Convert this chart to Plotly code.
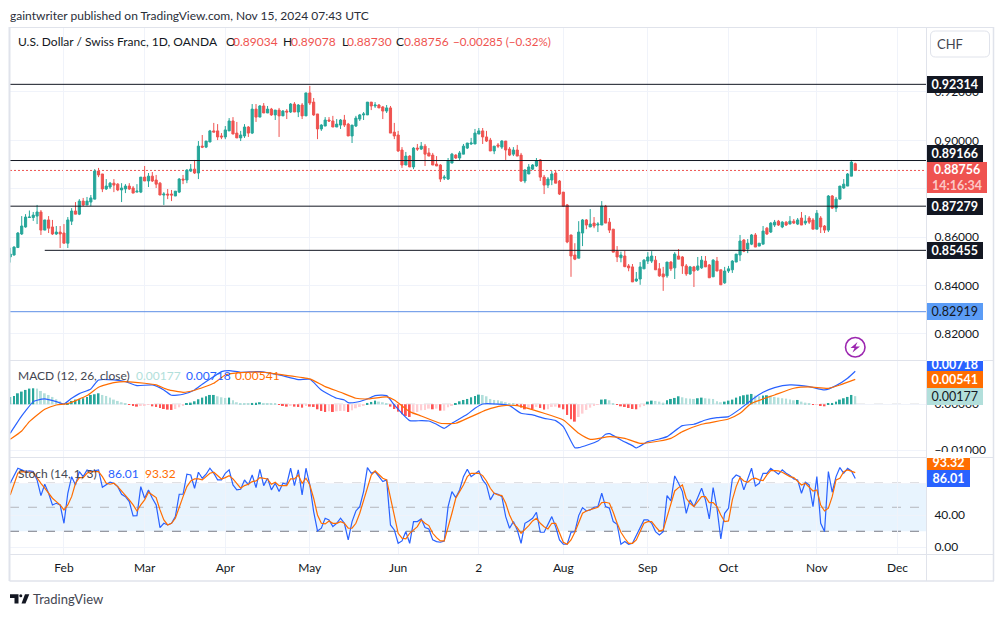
import pandas as pd
import plotly.graph_objects as go
from plotly.subplots import make_subplots

W = 1004
H = 617

dates = pd.bdate_range("2024-01-12", "2024-11-15")

opens = [
    0.8518, 0.8526, 0.8557, 0.8613, 0.8642, 0.8681, 0.8681, 0.8687, 0.8704, 0.8629,
    0.8671, 0.8642, 0.8613, 0.8621, 0.8617, 0.8575, 0.8666, 0.8708, 0.8695, 0.8749,
    0.8733, 0.8745, 0.8757, 0.8873, 0.8861, 0.8799, 0.8807, 0.8823, 0.8819, 0.8795,
    0.8799, 0.8811, 0.8803, 0.8786, 0.8786, 0.8848, 0.8832, 0.8852, 0.8836, 0.8823,
    0.8774, 0.8778, 0.8778, 0.8770, 0.8786, 0.8840, 0.8836, 0.8873, 0.8881, 0.8865,
    0.8976, 0.8972, 0.8993, 0.9039, 0.9039, 0.9018, 0.9014, 0.9039, 0.9080, 0.9030,
    0.9010, 0.9018, 0.9055, 0.9030, 0.9129, 0.9096, 0.9142, 0.9113, 0.9129, 0.9105,
    0.9125, 0.9101, 0.9121, 0.9117, 0.9150, 0.9117, 0.9146, 0.9101, 0.9196, 0.9158,
    0.9109, 0.9047, 0.9059, 0.9084, 0.9080, 0.9055, 0.9063, 0.9084, 0.9067, 0.9018,
    0.9059, 0.9088, 0.9105, 0.9105, 0.9158, 0.9142, 0.9146, 0.9138, 0.9121, 0.9134,
    0.9034, 0.9022, 0.8960, 0.8898, 0.8935, 0.8890, 0.8968, 0.8964, 0.8976, 0.8948,
    0.8939, 0.8902, 0.8898, 0.8844, 0.8840, 0.8906, 0.8939, 0.8927, 0.8943, 0.8968,
    0.8985, 0.8985, 0.9026, 0.9039, 0.9014, 0.9001, 0.8956, 0.8981, 0.8972, 0.8997,
    0.8964, 0.8943, 0.8960, 0.8939, 0.8832, 0.8861, 0.8881, 0.8894, 0.8919, 0.8848,
    0.8815, 0.8836, 0.8865, 0.8832, 0.8786, 0.8733, 0.8609, 0.8526, 0.8513, 0.8617,
    0.8671, 0.8642, 0.8658, 0.8650, 0.8650, 0.8728, 0.8662, 0.8633, 0.8542, 0.8515,
    0.8522, 0.8481, 0.8477, 0.8419, 0.8427, 0.8469, 0.8501, 0.8501, 0.8505, 0.8469,
    0.8448, 0.8440, 0.8497, 0.8473, 0.8522, 0.8518, 0.8481, 0.8448, 0.8477, 0.8465,
    0.8473, 0.8501, 0.8485, 0.8436, 0.8501, 0.8465, 0.8411, 0.8460, 0.8465, 0.8497,
    0.8526, 0.8588, 0.8551, 0.8571, 0.8609, 0.8563, 0.8571, 0.8637, 0.8621, 0.8650,
    0.8666, 0.8642, 0.8662, 0.8654, 0.8666, 0.8654, 0.8679, 0.8658, 0.8679, 0.8671,
    0.8633, 0.8679, 0.8646, 0.8629, 0.8770, 0.8720, 0.8757, 0.8803, 0.8811, 0.8852,
    0.89034,
]
highs = [
    0.8556, 0.8562, 0.8621, 0.8687, 0.8695, 0.8710, 0.8704, 0.8733, 0.8712, 0.8671,
    0.8687, 0.8671, 0.8646, 0.8646, 0.8654, 0.8683, 0.8720, 0.8745, 0.8757, 0.8762,
    0.8766, 0.8774, 0.8881, 0.8886, 0.8861, 0.8840, 0.8828, 0.8840, 0.8823, 0.8823,
    0.8819, 0.8823, 0.8811, 0.8819, 0.8848, 0.8894, 0.8865, 0.8869, 0.8857, 0.8828,
    0.8786, 0.8799, 0.8795, 0.8790, 0.8844, 0.8857, 0.8881, 0.8902, 0.8919, 0.8997,
    0.9022, 0.8997, 0.9043, 0.9072, 0.9067, 0.9030, 0.9059, 0.9092, 0.9096, 0.9076,
    0.9039, 0.9067, 0.9059, 0.9150, 0.9150, 0.9146, 0.9154, 0.9142, 0.9134, 0.9125,
    0.9134, 0.9125, 0.9129, 0.9154, 0.9158, 0.9150, 0.9154, 0.9196, 0.9225, 0.9175,
    0.9109, 0.9067, 0.9096, 0.9096, 0.9101, 0.9088, 0.9088, 0.9105, 0.9072, 0.9063,
    0.9101, 0.9109, 0.9117, 0.9158, 0.9158, 0.9158, 0.9150, 0.9142, 0.9146, 0.9142,
    0.9072, 0.9039, 0.8972, 0.8952, 0.8939, 0.8972, 0.8985, 0.8993, 0.8985, 0.8968,
    0.8948, 0.8935, 0.8902, 0.8857, 0.8927, 0.8948, 0.8943, 0.8956, 0.8985, 0.8989,
    0.9010, 0.9047, 0.9051, 0.9051, 0.9039, 0.9010, 0.8976, 0.8989, 0.9001, 0.8997,
    0.8972, 0.8972, 0.8981, 0.8948, 0.8881, 0.8902, 0.8902, 0.8927, 0.8923, 0.8857,
    0.8848, 0.8873, 0.8877, 0.8836, 0.8786, 0.8737, 0.8609, 0.8575, 0.8666, 0.8675,
    0.8675, 0.8716, 0.8683, 0.8662, 0.8749, 0.8733, 0.8679, 0.8633, 0.8563, 0.8540,
    0.8544, 0.8489, 0.8489, 0.8456, 0.8497, 0.8509, 0.8538, 0.8542, 0.8522, 0.8493,
    0.8477, 0.8497, 0.8501, 0.8538, 0.8551, 0.8522, 0.8489, 0.8481, 0.8481, 0.8518,
    0.8522, 0.8522, 0.8489, 0.8509, 0.8518, 0.8465, 0.8477, 0.8481, 0.8505, 0.8530,
    0.8609, 0.8592, 0.8592, 0.8613, 0.8617, 0.8575, 0.8646, 0.8642, 0.8662, 0.8671,
    0.8671, 0.8666, 0.8666, 0.8687, 0.8675, 0.8679, 0.8704, 0.8691, 0.8687, 0.8679,
    0.8712, 0.8687, 0.8650, 0.8774, 0.8774, 0.8766, 0.8811, 0.8840, 0.8865, 0.8919,
    0.89078,
]
lows = [
    0.8495, 0.8524, 0.8557, 0.8609, 0.8639, 0.8681, 0.8667, 0.8654, 0.8609, 0.8629,
    0.8617, 0.8609, 0.8609, 0.8555, 0.8575, 0.8555, 0.8650, 0.8695, 0.8691, 0.8728,
    0.8733, 0.8728, 0.8757, 0.8848, 0.8786, 0.8795, 0.8799, 0.8786, 0.8790, 0.8745,
    0.8782, 0.8795, 0.8782, 0.8786, 0.8782, 0.8832, 0.8807, 0.8828, 0.8803, 0.8774,
    0.8733, 0.8757, 0.8749, 0.8770, 0.8782, 0.8819, 0.8823, 0.8869, 0.8861, 0.8840,
    0.8968, 0.8968, 0.8993, 0.9034, 0.9001, 0.9005, 0.9005, 0.9039, 0.9026, 0.9010,
    0.8997, 0.9010, 0.9014, 0.9026, 0.9076, 0.9096, 0.9113, 0.9113, 0.9101, 0.9084,
    0.9014, 0.9101, 0.9088, 0.9113, 0.9117, 0.9096, 0.9088, 0.9101, 0.9146, 0.9101,
    0.9005, 0.9039, 0.9059, 0.9076, 0.9055, 0.9055, 0.9047, 0.9055, 0.9018, 0.8989,
    0.9055, 0.9080, 0.9084, 0.9105, 0.9125, 0.9134, 0.9134, 0.9088, 0.9113, 0.9030,
    0.9005, 0.8952, 0.8886, 0.8898, 0.8890, 0.8881, 0.8956, 0.8960, 0.8894, 0.8935,
    0.8898, 0.8894, 0.8828, 0.8836, 0.8836, 0.8906, 0.8923, 0.8915, 0.8943, 0.8964,
    0.8981, 0.8985, 0.9026, 0.8985, 0.8993, 0.8956, 0.8943, 0.8968, 0.8964, 0.8919,
    0.8935, 0.8935, 0.8935, 0.8828, 0.8823, 0.8861, 0.8877, 0.8890, 0.8832, 0.8778,
    0.8803, 0.8815, 0.8823, 0.8774, 0.8728, 0.8575, 0.8436, 0.8505, 0.8513, 0.8563,
    0.8633, 0.8642, 0.8637, 0.8621, 0.8650, 0.8658, 0.8617, 0.8538, 0.8497, 0.8496,
    0.8476, 0.8459, 0.8415, 0.8415, 0.8403, 0.8469, 0.8489, 0.8493, 0.8465, 0.8436,
    0.8378, 0.8432, 0.8460, 0.8427, 0.8509, 0.8448, 0.8440, 0.8444, 0.8394, 0.8460,
    0.8469, 0.8477, 0.8432, 0.8436, 0.8460, 0.8403, 0.8407, 0.8452, 0.8452, 0.8497,
    0.8501, 0.8538, 0.8534, 0.8567, 0.8559, 0.8563, 0.8571, 0.8609, 0.8617, 0.8642,
    0.8646, 0.8637, 0.8646, 0.8654, 0.8654, 0.8650, 0.8650, 0.8650, 0.8654, 0.8633,
    0.8633, 0.8617, 0.8617, 0.8621, 0.8716, 0.8704, 0.8757, 0.8799, 0.8811, 0.8852,
    0.88730,
]
closes = [
    0.8530, 0.8559, 0.8617, 0.8646, 0.8683, 0.8683, 0.8691, 0.8704, 0.8629, 0.8671,
    0.8637, 0.8613, 0.8621, 0.8613, 0.8575, 0.8671, 0.8708, 0.8695, 0.8749, 0.8733,
    0.8749, 0.8762, 0.8873, 0.8857, 0.8799, 0.8811, 0.8823, 0.8815, 0.8795, 0.8803,
    0.8811, 0.8799, 0.8782, 0.8790, 0.8848, 0.8832, 0.8852, 0.8832, 0.8819, 0.8774,
    0.8778, 0.8774, 0.8774, 0.8790, 0.8840, 0.8836, 0.8877, 0.8881, 0.8865, 0.8976,
    0.8972, 0.8997, 0.9039, 0.9034, 0.9014, 0.9014, 0.9043, 0.9080, 0.9026, 0.9010,
    0.9022, 0.9055, 0.9030, 0.9129, 0.9096, 0.9142, 0.9113, 0.9129, 0.9105, 0.9125,
    0.9101, 0.9121, 0.9117, 0.9150, 0.9117, 0.9146, 0.9101, 0.9196, 0.9154, 0.9105,
    0.9047, 0.9063, 0.9084, 0.9080, 0.9055, 0.9067, 0.9084, 0.9063, 0.9018, 0.9063,
    0.9092, 0.9105, 0.9109, 0.9158, 0.9142, 0.9146, 0.9134, 0.9121, 0.9134, 0.9030,
    0.9018, 0.8956, 0.8898, 0.8935, 0.8890, 0.8968, 0.8964, 0.8976, 0.8943, 0.8935,
    0.8898, 0.8894, 0.8840, 0.8848, 0.8915, 0.8943, 0.8927, 0.8948, 0.8976, 0.8989,
    0.8989, 0.9030, 0.9039, 0.9014, 0.8997, 0.8956, 0.8976, 0.8976, 0.8997, 0.8960,
    0.8939, 0.8960, 0.8935, 0.8832, 0.8877, 0.8890, 0.8898, 0.8915, 0.8848, 0.8815,
    0.8840, 0.8861, 0.8823, 0.8778, 0.8728, 0.8580, 0.8522, 0.8509, 0.8621, 0.8671,
    0.8650, 0.8654, 0.8646, 0.8654, 0.8728, 0.8658, 0.8629, 0.8538, 0.8518, 0.8526,
    0.8478, 0.8473, 0.8415, 0.8427, 0.8477, 0.8505, 0.8518, 0.8522, 0.8465, 0.8440,
    0.8436, 0.8497, 0.8469, 0.8530, 0.8509, 0.8481, 0.8448, 0.8477, 0.8460, 0.8481,
    0.8505, 0.8477, 0.8432, 0.8505, 0.8460, 0.8403, 0.8460, 0.8469, 0.8501, 0.8530,
    0.8584, 0.8542, 0.8575, 0.8609, 0.8559, 0.8575, 0.8625, 0.8613, 0.8658, 0.8662,
    0.8650, 0.8662, 0.8650, 0.8666, 0.8658, 0.8671, 0.8650, 0.8666, 0.8662, 0.8633,
    0.8699, 0.8642, 0.8629, 0.8770, 0.8720, 0.8757, 0.8811, 0.8819, 0.8861, 0.8910,
    0.88756,
]

# MACD pane
macd_hist = [
    0.0016, 0.00181, 0.00239, 0.00276, 0.00312, 0.00341, 0.00348, 0.00341, 0.0029, 0.00239,
    0.00203, 0.0016, 0.00109, 0.00065, 0.00029, 0.00029, 0.00073, 0.00102, 0.00116, 0.00131,
    0.0016, 0.00203, 0.00218, 0.00239, 0.00203, 0.00181, 0.00145, 0.00102, 0.00073, 0.00044,
    0.00015, -0.00015, -0.00029, -0.00051, -0.00022, -0.00022, -0.00015, -0.00044, -0.00058, -0.0008,
    -0.00102, -0.00116, -0.00123, -0.00102, -0.00065, -0.00022, 0.00007, 0.00036, 0.00065, 0.00109,
    0.00145, 0.00174, 0.00203, 0.00203, 0.00174, 0.00152, 0.00138, 0.00145, 0.00087, 0.00044,
    0.00022, 0.00015, 0.00007, 0.00029, 0.00036, 0.00044, 0.00029, 0.00022, 0.00015, 0.00007,
    -0.00007, -0.00036, -0.00051, -0.00036, -0.00051, -0.00058, -0.00073, -0.00036, -0.00051, -0.00058,
    -0.00109, -0.00145, -0.00167, -0.00152, -0.00167, -0.00152, -0.00145, -0.00145, -0.00167, -0.00131,
    -0.00087, -0.00058, -0.00029, 0.00029, 0.00051, 0.0008, 0.00058, 0.00044, 0.00015, -0.00051,
    -0.00102, -0.0016, -0.00218, -0.00254, -0.00276, -0.00218, -0.00167, -0.00131, -0.00123, -0.00094,
    -0.00109, -0.00094, -0.00138, -0.00138, -0.00065, -0.00029, 0.00022, 0.00065, 0.00094, 0.00116,
    0.00152, 0.00181, 0.0021, 0.00203, 0.00174, 0.00116, 0.00094, 0.00087, 0.00065, 0.00044,
    0.00022, 0.00007, -0.00022, -0.00073, -0.00109, -0.00094, -0.00102, -0.00058, -0.0008, -0.00116,
    -0.00109, -0.00058, -0.00051, -0.00073, -0.00109, -0.00232, -0.00326, -0.00377, -0.00276, -0.00203,
    -0.00123, -0.00073, -0.00036, -0.00015, 0.00102, 0.00109, 0.00087, 0.00022, -0.00015, -0.00044,
    -0.00058, -0.0008, -0.00102, -0.00109, -0.00065, -0.00036, 0.00058, 0.0008, 0.00073, 0.00058,
    0.00036, 0.00087, 0.00116, 0.00138, 0.00174, 0.00152, 0.00131, 0.00123, 0.00116, 0.00131,
    0.00145, 0.00131, 0.00123, 0.00116, 0.00065, 0.00044, 0.00058, 0.0008, 0.00102, 0.00145,
    0.00174, 0.00196, 0.0021, 0.00225, 0.00189, 0.00174, 0.00189, 0.00196, 0.00181, 0.0016,
    0.00145, 0.00131, 0.00123, 0.00102, 0.00087, 0.00094, 0.00058, 0.00036, 0.00022, -0.00007,
    -0.00007, -0.00029, -0.00044, 0.00015, 0.00029, 0.00058, 0.00102, 0.00131, 0.0016, 0.00203,
    0.00177,
]
# lines read at their visible bends, bar number first
macd_bars = [
    0, 3, 4, 6, 7, 9, 12, 14, 16, 18, 21, 23, 27, 30, 33, 37, 40, 42, 45, 48,
    50, 53, 55, 57, 60, 65, 70, 75, 78, 81, 85, 87, 88, 90, 93, 95, 98, 100, 104, 107,
    109, 111, 113, 115, 119, 121, 123, 128, 130, 133, 136, 139, 142, 144, 147, 148, 153, 155, 156, 159,
    162, 163, 166, 169, 171, 175, 178, 181, 184, 187, 190, 193, 196, 199, 203, 208, 212, 215, 218, 220,
]
macd_line = [
    -0.00631, -0.00254, -0.00145, 0.00058, 0.00087, 0.00116, 0.00058, 0.00007, 0.00131, 0.00232,
    0.00334, 0.00529, 0.00529, 0.00493, 0.00406, 0.00421, 0.00312, 0.00196, 0.00218, 0.00312,
    0.00435, 0.00602, 0.00711, 0.00732, 0.00696, 0.00711, 0.00638, 0.00537, 0.00544, 0.00312,
    0.00131, 0.00094, 0.00036, 0.00044, 0.00116, 0.00189, 0.00189, -0.00015, -0.00355, -0.00355,
    -0.00363, -0.00435, -0.00522, -0.00413, -0.00218, -0.00087, 0.00007, 0.0, -0.00029, -0.00196,
    -0.00232, -0.00305, -0.00355, -0.00486, -0.00943, -0.00943, -0.00798, -0.00653, -0.00638, -0.00776,
    -0.00899, -0.0095, -0.00812, -0.00754, -0.00703, -0.00464, -0.00435, -0.00341, -0.0029, -0.00268,
    -0.00102, 0.00094, 0.00261, 0.00363, 0.0042, 0.00384, 0.00312, 0.00406, 0.00566, 0.00718,
]
signal_bars = [
    0, 3, 5, 9, 12, 15, 20, 23, 27, 30, 35, 38, 41, 45, 48, 53, 56, 60, 66, 71,
    78, 82, 86, 90, 93, 98, 100, 104, 107, 112, 116, 120, 124, 128, 132, 139, 144, 148, 151, 156,
    160, 164, 169, 172, 175, 180, 187, 190, 193, 199, 204, 208, 213, 216, 220,
]
signal_line = [
    -0.00761, -0.0058, -0.00377, -0.00109, -0.00015, 0.00015, 0.00189, 0.0037, 0.00471, 0.00493,
    0.00457, 0.00421, 0.00319, 0.00261, 0.00305, 0.00457, 0.00638, 0.00689, 0.00696, 0.00638,
    0.00551, 0.00384, 0.00261, 0.00131, 0.00116, 0.0016, 0.00094, -0.0016, -0.00254, -0.00413,
    -0.00413, -0.00268, -0.00123, -0.00036, -0.00029, -0.00196, -0.00341, -0.00631, -0.00761, -0.00703,
    -0.0074, -0.00848, -0.00798, -0.0074, -0.00595, -0.00435, -0.00319, -0.00196, 0.00022, 0.00203,
    0.00348, 0.00377, 0.00348, 0.0042, 0.00541,
]

# Stochastic pane
stoch_k = [
    80.0, 90.4, 98.8, 96.7, 94.6, 95.4, 94.6, 84.2, 64.6, 78.8,
    67.5, 52.9, 55.0, 52.9, 30.0, 67.5, 88.3, 77.9, 94.6, 88.3,
    96.7, 94.6, 95.4, 96.7, 75.0, 77.9, 81.3, 80.0, 75.8, 66.3,
    63.3, 57.1, 39.2, 39.6, 75.8, 61.3, 71.7, 61.3, 52.9, 24.6,
    30.0, 27.9, 30.0, 38.3, 66.3, 66.3, 91.3, 90.4, 73.8, 93.8,
    86.3, 91.3, 98.8, 92.5, 84.2, 84.2, 92.5, 96.7, 77.9, 71.7,
    72.5, 84.2, 77.9, 90.4, 74.6, 97.5, 77.1, 86.3, 71.7, 80.0,
    69.6, 80.0, 78.8, 98.8, 77.1, 96.7, 65.4, 98.8, 77.9, 44.6,
    20.4, 23.8, 36.3, 34.2, 25.8, 30.0, 36.3, 30.0, 9.2, 32.1,
    45.4, 50.8, 69.6, 99.6, 92.5, 94.6, 88.3, 82.1, 84.2, 27.9,
    21.7, 5.0, 7.9, 19.6, 5.0, 32.1, 32.1, 35.4, 24.6, 22.9,
    9.2, 7.1, 6.3, 7.9, 50.8, 69.6, 62.1, 71.7, 88.3, 97.5,
    88.3, 91.3, 95.4, 84.2, 77.9, 59.2, 67.5, 66.3, 63.3, 38.3,
    23.8, 32.1, 21.7, 5.0, 30.0, 32.9, 36.3, 43.8, 18.8, 18.8,
    27.9, 38.3, 25.8, 9.2, 3.8, 3.8, 18.8, 19.6, 39.6, 49.6,
    45.4, 46.7, 50.0, 50.8, 67.5, 50.8, 48.8, 32.1, 28.8, 3.8,
    7.1, 3.8, 5.0, 15.4, 23.8, 34.2, 34.2, 30.0, 19.6, 15.4,
    19.6, 64.6, 57.9, 89.2, 80.0, 69.6, 42.5, 59.2, 50.8, 61.3,
    73.8, 59.2, 35.4, 74.6, 48.8, 10.4, 42.5, 48.8, 85.4, 90.4,
    88.3, 71.7, 86.3, 98.8, 76.7, 80.0, 92.5, 92.5, 98.8, 95.4,
    91.3, 96.7, 92.5, 89.6, 85.4, 84.2, 67.5, 81.3, 77.9, 50.8,
    88.3, 30.0, 19.6, 94.6, 68.8, 88.3, 99.6, 92.5, 98.8, 95.4,
    86.01,
]
stoch_d = [
    65.4, 80.0, 92.5, 94.6, 93.8, 93.8, 93.8, 86.3, 80.0, 73.8,
    67.5, 61.3, 57.1, 52.9, 46.7, 52.9, 63.3, 80.0, 87.1, 87.1,
    92.5, 94.6, 94.6, 94.6, 88.3, 80.0, 78.8, 80.0, 75.8, 70.4,
    65.4, 59.2, 52.9, 45.4, 52.9, 59.2, 68.8, 65.4, 62.1, 46.7,
    34.2, 27.9, 30.0, 36.3, 50.8, 63.3, 75.8, 82.9, 85.4, 85.4,
    84.2, 88.3, 92.5, 93.8, 89.6, 85.4, 87.1, 89.6, 85.4, 80.0,
    73.8, 77.1, 78.8, 82.1, 82.9, 87.1, 86.3, 85.4, 78.8, 81.3,
    77.1, 77.1, 77.1, 85.4, 85.4, 90.4, 80.0, 86.3, 77.9, 61.3,
    40.4, 30.0, 29.2, 32.9, 30.0, 30.0, 32.1, 30.0, 23.8, 23.8,
    30.0, 42.5, 59.2, 75.8, 90.4, 95.4, 91.3, 86.3, 84.2, 63.3,
    40.4, 17.5, 11.3, 10.4, 17.5, 21.7, 25.8, 34.2, 30.0, 27.1,
    17.5, 12.1, 7.9, 7.9, 23.8, 42.5, 61.3, 68.8, 77.9, 88.3,
    92.5, 92.5, 92.5, 89.6, 82.9, 73.8, 67.5, 65.4, 64.6, 55.0,
    40.4, 30.0, 24.6, 17.5, 21.7, 27.1, 32.9, 36.3, 30.0, 25.8,
    22.9, 30.0, 30.0, 18.8, 6.3, 3.8, 9.2, 18.8, 30.0, 42.5,
    45.4, 46.7, 48.8, 50.0, 55.8, 56.3, 55.0, 43.8, 30.0, 18.8,
    11.3, 5.0, 5.0, 9.2, 19.6, 30.0, 32.1, 32.1, 25.8, 20.4,
    21.7, 38.3, 52.9, 70.4, 74.6, 77.9, 61.3, 55.0, 50.8, 57.1,
    63.3, 63.3, 55.8, 55.8, 50.8, 40.4, 32.1, 32.9, 59.2, 75.8,
    87.1, 82.9, 81.3, 85.4, 86.3, 84.2, 83.3, 90.4, 95.8, 95.8,
    95.4, 93.8, 91.3, 88.3, 87.1, 82.9, 77.9, 80.0, 75.8, 70.4,
    71.7, 52.9, 45.4, 48.8, 63.3, 84.2, 86.3, 94.6, 96.7, 95.4,
    93.32,
]

month_ticks = ["2024-02-01", "2024-03-01", "2024-04-01", "2024-05-01", "2024-06-03", "2024-07-02",
               "2024-08-01", "2024-09-02", "2024-10-01", "2024-11-01", "2024-12-02"]
month_labels = ["Feb", "Mar", "Apr", "May", "Jun", "2", "Aug", "Sep", "Oct", "Nov", "Dec"]

level_prices = [0.92314, 0.89166, 0.87279, 0.85455, 0.82919]
last_price = 0.88756

FONT = "Lato"
TEXT = "#131722"
GRID = "#f0f3fa"
FRAME = "#e0e3eb"
UP = "#26a69a"
DOWN = "#ef5350"
BLUE = "#2962ff"
ORANGE = "#ff6d00"


def px(x):
    return x / W


def py(y):
    return 1 - y / H


fig = make_subplots(rows=3, cols=1, shared_xaxes=True, vertical_spacing=0.0)

fig.add_trace(go.Candlestick(x=dates, open=opens, high=highs, low=lows, close=closes,
                             increasing=dict(line=dict(color=UP, width=1), fillcolor=UP),
                             decreasing=dict(line=dict(color=DOWN, width=1), fillcolor=DOWN)),
              row=1, col=1)

hist_colors = []
for i, v in enumerate(macd_hist):
    rising = i == 0 or v >= macd_hist[i - 1]
    if v >= 0:
        hist_colors.append(UP if rising else "#b2dfdb")
    else:
        hist_colors.append("#ffcdd2" if rising else "#ff5252")
fig.add_trace(go.Bar(x=dates, y=macd_hist, marker=dict(color=hist_colors, line=dict(width=0))), row=2, col=1)
fig.add_trace(go.Scatter(x=dates[macd_bars], y=macd_line, mode="lines", line=dict(color=BLUE, width=1.2, shape="spline", smoothing=0.5)),
              row=2, col=1)
fig.add_trace(go.Scatter(x=dates[signal_bars], y=signal_line, mode="lines", line=dict(color=ORANGE, width=1.2, shape="spline", smoothing=0.5)),
              row=2, col=1)

fig.add_trace(go.Scatter(x=dates, y=stoch_k, mode="lines", line=dict(color=BLUE, width=1.2)), row=3, col=1)
fig.add_trace(go.Scatter(x=dates, y=stoch_d, mode="lines", line=dict(color=ORANGE, width=1.2)), row=3, col=1)

fig.update_layout(width=W, height=H, margin=dict(l=0, r=0, t=0, b=0), autosize=False,
                  paper_bgcolor="white", plot_bgcolor="white", showlegend=False, bargap=0.5, boxgap=0.2,
                  font=dict(family=FONT, size=12, color=TEXT))

fig.update_xaxes(range=["2024-01-11 22:48", "2024-12-11 10:00"], rangeslider_visible=False,
                 rangebreaks=[dict(bounds=["sat", "mon"])], domain=[px(10), px(926)],
                 tickmode="array", tickvals=month_ticks, ticktext=month_labels,
                 showgrid=True, gridcolor=GRID, gridwidth=1, zeroline=False, showline=False, ticks="")
fig.update_xaxes(tickfont=dict(size=12, color=TEXT), ticks="outside", ticklen=3, tickcolor="rgba(0,0,0,0)", row=3, col=1)

axis_style = dict(side="right", showgrid=True, gridcolor=GRID, gridwidth=1, zeroline=False, showline=False,
                  ticks="outside", ticklen=5, tickcolor="rgba(0,0,0,0)", tickfont=dict(size=12, color=TEXT),
                  tickmode="array", automargin=False)
fig.update_yaxes(domain=[py(360), py(28)], range=[0.80923, 0.94642],
                 tickvals=[0.82, 0.84, 0.86, 0.88, 0.90, 0.92], ticktext=["0.82000", "0.84000", "0.86000", "", "0.90000", "0.92000"],
                 **axis_style, row=1, col=1)
fig.update_yaxes(domain=[py(457), py(361)], range=[-0.01146, 0.00941],
                 tickvals=[-0.01, 0.0], tickformat=".5f", **axis_style, row=2, col=1)
fig.update_yaxes(domain=[py(554), py(458)], range=[-8.4, 111.6],
                 tickvals=[0, 40, 80], tickformat=".2f", **axis_style, row=3, col=1)

# horizontal levels drawn on the chart
for price in level_prices:
    color = "#5d8ee6" if price == 0.82919 else TEXT
    if price == 0.85455:
        fig.add_shape(type="line", xref="x", yref="y", x0="2024-01-25", x1="2024-12-11 10:00", y0=price, y1=price,
                      line=dict(color=color, width=1))
    else:
        fig.add_shape(type="line", xref="paper", yref="y", x0=px(10), x1=px(926), y0=price, y1=price,
                      line=dict(color=color, width=1))
fig.add_shape(type="line", xref="paper", yref="y", x0=px(10), x1=px(926), y0=last_price, y1=last_price, layer="below",
              line=dict(color=DOWN, width=1, dash="2px,2px"))

# macd zero and stochastic band
fig.add_shape(type="line", xref="paper", yref="y2", x0=px(10), x1=px(926), y0=0, y1=0, layer="below",
              line=dict(color="#b0b3bb", width=1, dash="dash"))
fig.add_shape(type="rect", xref="paper", yref="y3", x0=px(10), x1=px(926), y0=20, y1=80, layer="below",
              fillcolor="rgba(33,150,243,0.1)", line=dict(width=0))
for level, color in [(80, "#787b86"), (50, "#b4b6bd"), (20, "#787b86")]:
    fig.add_shape(type="line", xref="paper", yref="y3", x0=px(10), x1=px(926), y0=level, y1=level, layer="below",
                  line=dict(color=color, width=1, dash="dash"))

# frame
for y in [27.5, 360.5, 457.5, 554.5]:
    fig.add_shape(type="line", xref="paper", yref="paper", x0=px(10), x1=px(994), y0=py(y), y1=py(y),
                  line=dict(color=FRAME, width=1))
fig.add_shape(type="line", xref="paper", yref="paper", x0=px(9.5), x1=px(994), y0=py(581), y1=py(581), line=dict(color=FRAME, width=1.5))
fig.add_shape(type="line", xref="paper", yref="paper", x0=px(9.5), x1=px(9.5), y0=py(27), y1=py(581), line=dict(color=FRAME, width=2))
fig.add_shape(type="line", xref="paper", yref="paper", x0=px(926.5), x1=px(926.5), y0=py(27), y1=py(581), line=dict(color=FRAME, width=1))
fig.add_shape(type="line", xref="paper", yref="paper", x0=px(993.5), x1=px(993.5), y0=py(27), y1=py(581), line=dict(color=FRAME, width=1.5))

# currency button, rounded corners
bx0, bx1, by0, by1, r = px(930.5), px(989.5), py(31), py(57), 5
rx, ry = r / W, r / H
fig.add_shape(type="path", xref="paper", yref="paper", line=dict(color=FRAME, width=1), fillcolor="white",
              path=(f"M {bx0 + rx},{by0} L {bx1 - rx},{by0} Q {bx1},{by0} {bx1},{by0 - ry} "
                    f"L {bx1},{by1 + ry} Q {bx1},{by1} {bx1 - rx},{by1} "
                    f"L {bx0 + rx},{by1} Q {bx0},{by1} {bx0},{by1 + ry} "
                    f"L {bx0},{by0 - ry} Q {bx0},{by0} {bx0 + rx},{by0} Z"))

# lightning badge
fig.add_shape(type="circle", xref="paper", yref="paper", x0=px(845.5), x1=px(865), y0=py(337.5), y1=py(357),
              line=dict(color="#9c27b0", width=1.6))
bolt = [(857.5, 342), (850.5, 348), (854.5, 348), (852.5, 352.5), (860, 346.5), (855.5, 346.5)]
fig.add_shape(type="path", xref="paper", yref="paper", fillcolor="#9c27b0", line=dict(width=0),
              path="M " + " L ".join(f"{px(a)},{py(b)}" for a, b in bolt) + " Z")

# TradingView logo
logo_parts = [
    [(10, 594.3), (18.5, 594.3), (18.5, 603.5), (14.5, 603.5), (14.5, 598), (10, 598)],
    [(21.5, 603.5), (25, 594.3), (29.3, 594.3), (25.5, 603.5)],
]
for part in logo_parts:
    fig.add_shape(type="path", xref="paper", yref="paper", fillcolor=TEXT, line=dict(width=0),
                  path="M " + " L ".join(f"{px(a)},{py(b)}" for a, b in part) + " Z")
fig.add_shape(type="circle", xref="paper", yref="paper", x0=px(19.3), x1=px(22.3), y0=py(594.3), y1=py(597.3), fillcolor=TEXT, line=dict(width=0))


def text(x, y, s, color=TEXT, size=12, anchor="left"):
    # annotations keep a small padding, take it back off for left aligned text
    shift = 2 if anchor == "left" else 0
    fig.add_annotation(xref="paper", yref="paper", x=px(x - shift), y=py(y), text=s, showarrow=False,
                       xanchor=anchor, yanchor="middle", font=dict(family=FONT, size=size, color=color))


def tag(y0, y1, s, bg, color="white", x1=982.5, bold=True):
    label = f"<b>{s}</b>" if bold else s
    fig.add_annotation(xref="paper", yref="paper", x=px(927), y=py(y0), text=label, showarrow=False,
                       xanchor="left", yanchor="top", width=x1 - 927, height=y1 - y0, bgcolor=bg, borderpad=0,
                       borderwidth=0, align="center", valign="middle",
                       font=dict(family=FONT, size=12.5, color=color))


text(10, 15, "gaintwriter published on TradingView.com, Nov 15, 2024 07:43 UTC", color="#2a2e39")
text(18, 42, "U.S. Dollar / Swiss Franc, 1D, OANDA")
for x, s in [(226, "O"), (283, "H"), (342, "L"), (396, "C")]:
    text(x, 42, s)
for x, s in [(233, "0.89034"), (291, "0.89078"), (347, "0.88730"), (404, "0.88756")]:
    text(x, 42, s, color=DOWN)
text(453, 42, "−0.00285 (−0.32%)", color=DOWN, size=11.6)
text(949.5, 44, "CHF", color="#434651", anchor="center", size=13)

text(18, 375, "MACD (12, 26, close)", color="#434651")
text(136, 375, "0.00177", color="#b2dfdb")
text(186, 375, "0.00718", color=BLUE)
text(235, 375, "0.00541", color=ORANGE)
text(18, 473, "Stoch (14, 1, 3)", color="#434651")
text(108, 473, "86.01", color=BLUE)
text(145, 473, "93.32", color=ORANGE)

text(33, 599, "TradingView", color="#434651", size=13)

# right scale tags, stacked as on the original
tag(76.5, 93, "0.92314", TEXT)
tag(145, 162, "0.89166", TEXT)
fig.add_annotation(xref="paper", yref="paper", x=px(927), y=py(162), showarrow=False, xanchor="left", yanchor="top",
                   width=60, height=31, bgcolor=DOWN, borderpad=0, borderwidth=0, align="center", valign="middle",
                   text='<b>0.88756</b><br><span style="color:#fbc9c7"><b>14:16:34</b></span>',
                   font=dict(family=FONT, size=12.5, color="white"))
tag(198, 215, "0.87279", TEXT)
tag(242, 259, "0.85455", TEXT)
tag(303, 320, "0.82919", "#5b9cf6", color=TEXT, bold=False)

tag(357, 371, "0.00718", BLUE)
tag(371, 388, "0.00541", ORANGE)
tag(388, 404.7, "0.00177", "#b2dfdb", color=TEXT, bold=False)
tag(455, 470, "93.32", ORANGE, x1=970)
tag(470, 487, "86.01", BLUE, x1=970)
# the pane top clips the topmost tags
tag(351, 360.5, " ", "white")
tag(452, 457.5, " ", "white", x1=970)

fig.write_html("out.html", config=dict(displayModeBar=False), post_script="document.body.style.margin='0';")
